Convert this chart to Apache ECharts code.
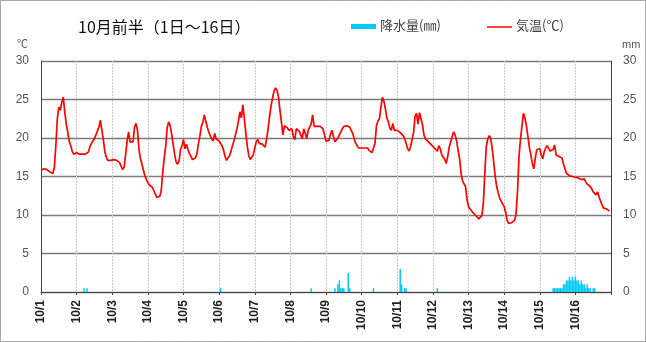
<!DOCTYPE html>
<html>
<head>
<meta charset="utf-8">
<script src="https://cdn.jsdelivr.net/npm/echarts@6/dist/echarts.min.js"></script>
<style>
html,body{margin:0;padding:0;background:#fff;}
#chart{width:646px;height:342px;}
</style>
</head>
<body>
<div id="chart"></div>
<script>
// Day labels along the time axis (one per day, 24 hourly readings each)
const dayLabels = ['10/1','10/2','10/3','10/4','10/5','10/6','10/7','10/8',
  '10/9','10/10','10/11','10/12','10/13','10/14','10/15','10/16'];

// Hourly air temperature (°C), one row per day
const temperature = [
  15.8,15.9,16.0,16.1,15.9,15.7,15.6,15.4,15.4,16.2,19.0,22.5,24.0,23.6,24.6,25.3,23.4,21.8,20.8,19.6,19.0,18.3,17.9,18.0,
  18.1,18.2,17.9,18.1,17.9,18.0,17.9,18.0,18.2,18.9,19.3,19.6,19.9,20.4,20.6,21.4,22.3,21.0,19.8,18.2,17.5,17.1,17.0,17.1,
  17.2,17.2,17.2,17.1,17.1,16.8,16.3,15.9,16.2,17.8,19.6,20.8,19.5,19.6,19.5,21.4,21.9,21.0,18.5,17.3,16.6,15.8,15.1,14.6,
  14.2,13.9,13.8,13.6,13.4,12.7,12.3,12.1,12.4,13.2,15.5,17.4,18.9,21.3,22.1,21.6,20.5,19.2,17.9,16.9,16.6,17.0,18.5,19.0,
  19.8,18.6,19.2,18.5,18.0,17.6,17.2,17.1,17.4,17.9,19.2,20.2,21.5,22.0,23.0,22.2,21.4,20.8,20.3,19.9,19.6,20.6,19.9,19.7,
  19.6,19.5,19.0,18.4,17.6,17.1,17.3,17.7,18.3,19.0,19.6,20.4,21.2,22.2,23.4,22.6,24.3,22.5,20.6,18.9,17.7,17.2,17.1,17.8,
  18.7,19.5,19.8,19.3,19.1,19.2,19.0,18.8,19.9,21.2,22.8,24.2,25.2,26.1,26.5,26.2,25.3,23.6,22.0,20.4,21.6,21.4,21.3,21.0,
  21.0,21.2,20.2,19.8,21.2,21.0,20.9,21.0,19.9,21.2,20.6,19.9,21.0,21.4,21.8,23.0,21.5,21.6,21.5,21.5,21.5,21.3,21.2,21.0,
  19.6,19.8,19.7,20.5,21.0,20.2,19.5,19.7,20.0,20.4,20.8,21.2,21.5,21.7,21.6,21.6,21.4,21.0,20.6,19.9,19.3,19.0,18.7,18.6,
  18.7,18.9,18.7,18.6,18.7,18.4,18.3,18.1,18.0,19.3,21.6,22.2,22.5,24.0,25.3,24.8,23.8,22.6,22.1,21.3,21.0,21.9,21.0,21.2,
  21.0,20.8,20.7,20.6,20.3,19.9,19.3,18.6,18.3,18.9,19.8,20.7,22.8,23.2,21.8,23.3,22.5,21.7,20.4,19.9,19.7,19.5,19.3,19.1,
  19.0,18.7,18.5,18.3,19.0,18.6,17.8,17.6,17.2,16.7,17.6,18.8,19.5,20.2,20.8,20.4,19.6,18.4,17.3,15.4,14.4,14.3,13.7,12.0,
  11.1,10.8,10.6,10.3,10.1,9.9,9.7,9.5,9.5,9.9,11.5,15.5,18.9,19.9,20.3,19.9,18.6,16.8,15.0,13.7,12.9,12.2,11.8,11.4,
  11.1,10.4,9.3,8.9,8.9,9.0,9.0,9.3,10.0,13.0,17.5,19.8,21.5,23.2,22.6,21.6,20.2,18.8,17.8,16.7,16.0,17.4,18.5,18.3,
  18.6,17.8,17.3,18.2,18.7,19.0,19.2,18.3,18.4,18.5,19.1,17.8,17.7,17.6,17.5,17.4,16.6,16.0,15.4,15.2,15.1,15.0,15.0,15.0,
  14.9,14.9,14.8,14.7,14.6,14.5,14.7,14.3,14.0,13.9,13.7,13.4,13.0,12.8,12.6,13.0,12.3,11.8,11.3,10.9,10.8,10.8,10.7,10.5
];

// Precipitation (mm): [hour index from 10/1 00:00, amount]
const precipitation = [
  [29,0.5],[31,0.5],[121,0.5],[182,0.5],
  [198,0.5],[200,1.0],[201,1.5],[202,0.5],[203,0.5],[204,0.5],[207,2.5],[208,0.5],
  [224,0.5],[242,3.0],[243,1.0],[245,0.5],[246,0.5],[267,0.5],
  [345,0.5],[346,0.5],[347,0.5],[348,0.5],[349,0.5],[350,0.5],[351,0.5],
  [352,1.0],[353,1.0],[354,1.5],[355,1.5],[356,2.0],[357,1.5],[358,2.0],[359,1.5],
  [360,2.0],[361,1.5],[362,1.5],[363,1.0],[364,1.5],[365,1.0],[366,1.0],[367,0.5],
  [368,1.0],[369,0.5],[370,0.5],[372,0.5],[373,0.5]
];

// Value-axis ticks shared by both vertical axes
const yTicks = [0,5,10,15,20,25,30];

const HOURS_PER_DAY = 24;
const totalHours = dayLabels.length * HOURS_PER_DAY;
const tempPoints = temperature.map((t, i) => [i, t]);

const font = '"Liberation Sans", "Noto Sans CJK JP", sans-serif';
const jpFont = '"Noto Sans CJK JP", sans-serif';

const chart = echarts.init(document.getElementById('chart'), null, {renderer: 'canvas'});
chart.setOption({
  animation: false,
  backgroundColor: '#fff',
  grid: {left: 41, right: 35, top: 61, bottom: 50, containLabel: false},
  xAxis: {
    type: 'value',
    min: 0,
    max: totalHours,
    interval: HOURS_PER_DAY,
    axisLine: {show: true, lineStyle: {color: '#444', width: 1}},
    axisTick: {show: true, length: 3, lineStyle: {color: '#444'}},
    axisLabel: {
      rotate: 90,
      margin: 8,
      fontSize: 12,
      fontWeight: 'bold',
      color: '#222',
      fontFamily: font,
      formatter: v => {
        const d = Math.round(v / HOURS_PER_DAY);
        return d < dayLabels.length ? dayLabels[d] : '';
      }
    },
    splitLine: {show: true, lineStyle: {color: '#c8c8c8', width: 1, type: [2, 1]}}
  },
  yAxis: [
    {
      type: 'value', min: yTicks[0], max: yTicks[yTicks.length - 1], interval: 5,
      axisLine: {show: true, lineStyle: {color: '#444'}},
      axisTick: {show: false},
      axisLabel: {fontSize: 12, color: '#555', margin: 12, fontFamily: font},
      splitLine: {show: true, lineStyle: {color: '#7a7a7a', width: 1.4}}
    },
    {
      type: 'value', min: yTicks[0], max: yTicks[yTicks.length - 1], interval: 5,
      axisLine: {show: true, lineStyle: {color: '#444'}},
      axisTick: {show: false},
      axisLabel: {fontSize: 12, color: '#555', margin: 12, fontFamily: font},
      splitLine: {show: false}
    }
  ],
  series: [
    {
      name: '降水量(㎜)',
      type: 'bar',
      yAxisIndex: 1,
      barWidth: 1.5,
      itemStyle: {color: '#00c8f8'},
      data: precipitation,
      z: 2
    },
    {
      name: '気温(℃)',
      type: 'line',
      yAxisIndex: 0,
      showSymbol: false,
      symbol: 'none',
      lineStyle: {color: '#ff0000', width: 1.7},
      data: tempPoints,
      z: 3
    }
  ],
  graphic: [
    // outer frame
    {type: 'rect', shape: {x: 0.5, y: 0.5, width: 645, height: 341},
     style: {fill: null, stroke: '#555', lineWidth: 1, lineDash: [1, 1]}, silent: true},
    {type: 'text', left: 78, top: 19,
     style: {text: '10月前半（1日～16日）', fontSize: 16, fill: '#111', fontFamily: jpFont}},
    // legend: precipitation
    {type: 'rect', shape: {x: 351, y: 24, width: 25, height: 5}, style: {fill: '#00c8f8'}},
    {type: 'text', left: 380, top: 19,
     style: {text: '降水量(㎜)', fontSize: 13, fill: '#444', fontFamily: jpFont}},
    // legend: temperature
    {type: 'line', shape: {x1: 487, y1: 27, x2: 512, y2: 27}, style: {stroke: '#ff0000', lineWidth: 1.5}},
    {type: 'text', left: 516, top: 19,
     style: {text: '気温(℃)', fontSize: 13, fill: '#444', fontFamily: jpFont}},
    // axis units
    {type: 'text', left: 17, top: 38,
     style: {text: '℃', fontSize: 11, fill: '#555', fontFamily: jpFont}},
    {type: 'text', left: 622, top: 39,
     style: {text: 'mm', fontSize: 11, fill: '#555', fontFamily: font}}
  ]
});
</script>
</body>
</html>
